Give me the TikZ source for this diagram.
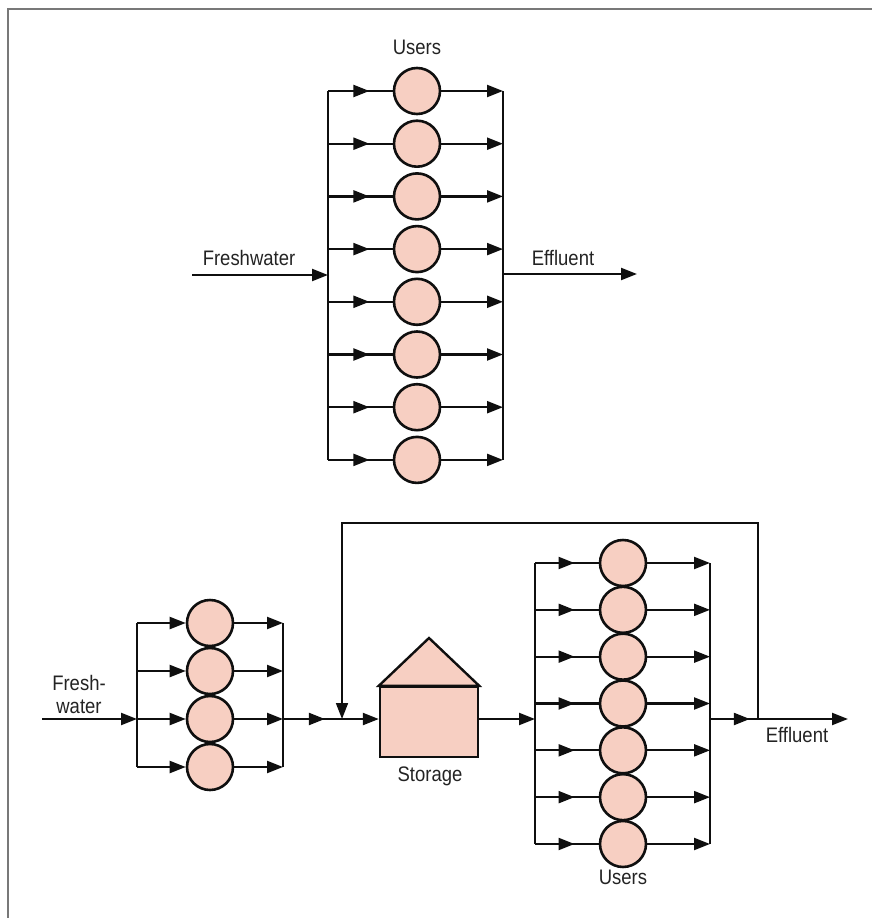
\documentclass[tikz,border=0pt]{standalone}
\usepackage{fontspec}
\setmainfont{Liberation Sans}[FakeStretch=0.88]
\usetikzlibrary{arrows.meta,decorations.markings,calc}

\definecolor{userfill}{RGB}{247,207,194}
\definecolor{inkline}{RGB}{15,15,15}
\definecolor{framegray}{RGB}{120,120,120}
\definecolor{labelink}{RGB}{35,35,35}

\tikzset{
  tip/.style={-{Triangle[length=16pt,width=12pt]}},
  flow/.style={line width=2.2pt, draw=inkline},
  thinflow/.style={line width=1.7pt, draw=inkline},
  user/.style={circle, draw=inkline, line width=2.6pt, fill=userfill,
               minimum size=46pt, inner sep=0pt},
  tank/.style={draw=inkline, line width=2.4pt, fill=userfill},
  lbl/.style={text=labelink, font=\fontsize{21}{23}\selectfont, inner sep=0pt},
  midtip/.style={postaction={decorate}, decoration={markings,
      mark=at position #1 with {\arrow{Triangle[length=16pt,width=12pt]}}}},
}

\begin{document}
\begin{tikzpicture}[x=1pt, y=-1pt]
\useasboundingbox (0,0) rectangle (872,918);

% frame edges
\draw[framegray, line width=1.5pt] (8,918) -- (8,9) -- (872,9);

% ---------- upper scheme: users in parallel ----------
\node[lbl] (uhead) at (417,47) {Users};
\foreach \i in {1,...,8} {
  \pgfmathsetmacro{\yy}{91+52.7*(\i-1)}
  \node[user] (t\i) at (417,\yy) {};
  \coordinate (tl\i) at (328,\yy);
  \coordinate (tr\i) at (503,\yy);
  \draw[flow, midtip=0.64] (tl\i) -- (t\i.west);
  \draw[flow, tip] (t\i.east) -- (tr\i);
}
\draw[flow] (tl1) -- (tl8);
\draw[flow] (tr1) -- (tr8);

\coordinate (fwin) at (192,275);
\coordinate (fwbus) at (328,275);
\draw[flow, tip] (fwin) -- (fwbus);
\node[lbl] (fwlabel) at (249,258) {Freshwater};

\coordinate (efbus) at (503,274);
\coordinate (efout) at (637,274);
\draw[flow, tip] (efbus) -- (efout);
\node[lbl] (eflabel) at (563,258) {Effluent};

% ---------- lower scheme: treatment, storage, reuse ----------
% first bank of units
\foreach \i in {1,...,4} {
  \pgfmathsetmacro{\yy}{623+48*(\i-1)}
  \node[user] (p\i) at (210,\yy) {};
  \coordinate (pl\i) at (137,\yy);
  \coordinate (pr\i) at (283,\yy);
  \draw[flow, tip] (pl\i) -- (p\i.west);
  \draw[flow, tip] (p\i.east) -- (pr\i);
}
\draw[flow] (pl1) -- (pl4);
\draw[flow] (pr1) -- (pr4);

\coordinate (fw2in) at (42,719);
\draw[flow, tip] (fw2in) -- (pl3);
\node[lbl, align=center] (fw2label) at (79,694) {Fresh-\\water};

% junction where recycled water joins
\coordinate (jn) at (342,719);
\draw[flow, midtip=0.71] (pr3) -- (jn);

% storage tank
\node[tank, minimum width=98pt, minimum height=70pt, inner sep=0pt] (tank) at (429,722) {};
\draw[tank, line join=miter] (tank.north west) -- (429,638) -- (tank.north east) -- cycle;
\node[lbl] (tanklabel) at (430,776) {Storage};
\coordinate (tankin) at (tank.west |- jn);
\draw[flow, tip] (jn) -- (tankin);

% second bank of users
\foreach \i in {1,...,7} {
  \pgfmathsetmacro{\yy}{563+46.83*(\i-1)}
  \node[user] (u\i) at (623,\yy) {};
  \coordinate (ul\i) at (535,\yy);
  \coordinate (ur\i) at (710,\yy);
  \draw[flow, midtip=0.62] (ul\i) -- (u\i.west);
  \draw[flow, tip] (u\i.east) -- (ur\i);
}
\draw[flow] (ul1) -- (ul7);
\draw[flow] (ur1) -- (ur7);
\node[lbl] (ulabel) at (623,877) {Users};

\coordinate (tankout) at (tank.east |- jn);
\coordinate (ubusin) at (535,719);
\draw[flow, tip] (tankout) -- (ubusin);

% effluent and recycle loop
\coordinate (ubusout) at (710,719);
\coordinate (split) at (758,719);
\coordinate (ef2out) at (848,719);
\draw[flow, midtip=0.83] (ubusout) -- (split);
\draw[flow, tip] (split) -- (ef2out);
\node[lbl] (ef2label) at (797,735) {Effluent};

\coordinate (loopR) at (758,523);
\coordinate (loopL) at (342,523);
\draw[thinflow, tip] (split) -- (loopR) -- (loopL) -- (jn);
\end{tikzpicture}
\end{document}
